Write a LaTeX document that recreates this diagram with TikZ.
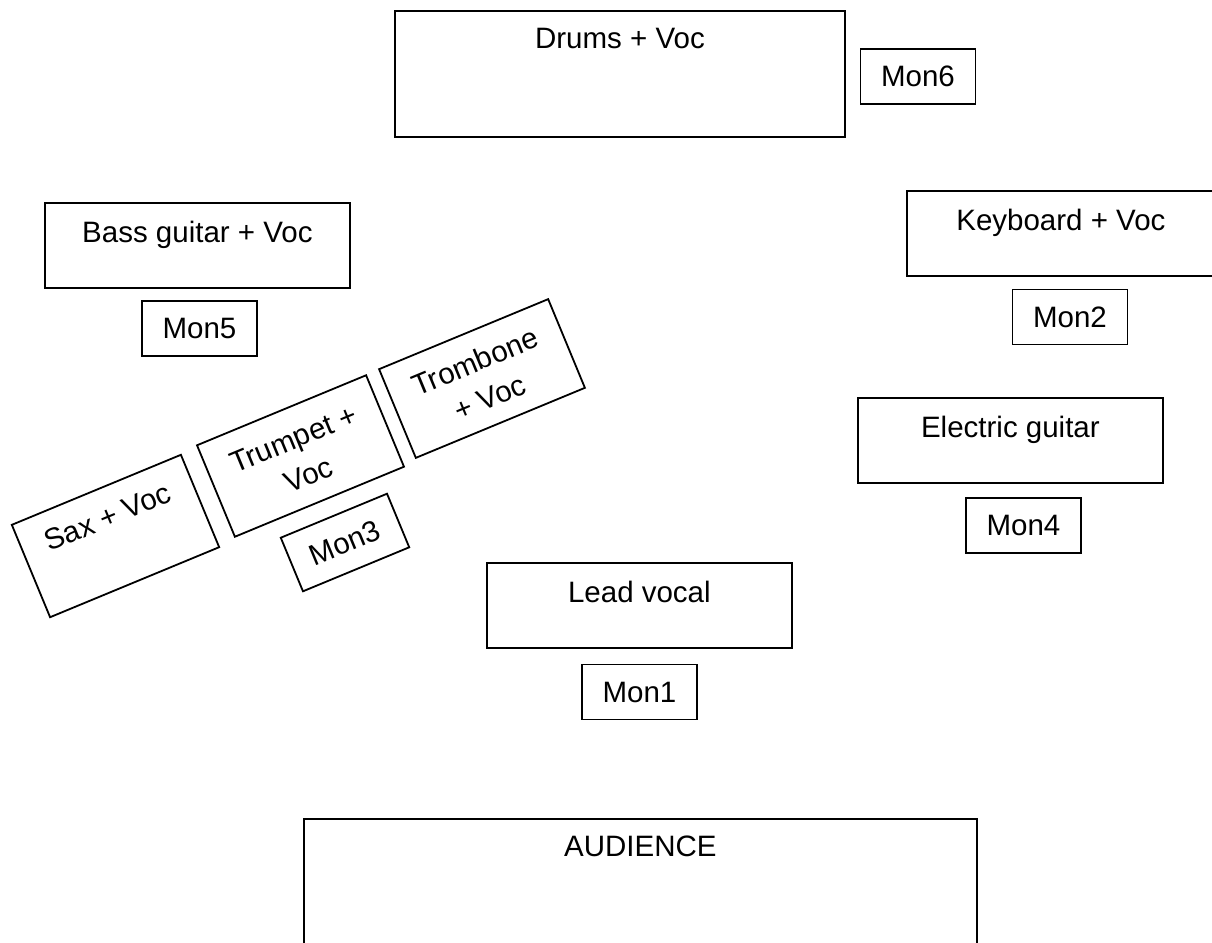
\documentclass[tikz,border=0pt]{standalone}
\usepackage{fontspec}
\setmainfont{Liberation Sans}
\tikzset{%
    stage/.style={%
        draw,
        line width=1.8pt,
        inner sep=0pt,
        anchor=north west,
        minimum width=305pt,
        text height=39.5pt,
        text depth=45.5pt,
        font=\fontsize{29.5}{39}\selectfont
    },
    monitor/.style={%
        draw,
        line width=1.8pt,
        inner sep=0pt,
        minimum width=115pt,
        minimum height=55pt,
        font=\fontsize{29.5}{39}\selectfont
    },
    horn/.style 2 args={%
        stage,
        anchor=center,
        rotate=22.5,
        align=center,
        minimum width=183pt,
        text height=#2pt,
        text depth=#1pt-#2pt
    }
}

\begin{document}
\begin{tikzpicture}[x=1pt, y=-1pt]

    \useasboundingbox (0, 0) rectangle (1212, 942);

    % Back line
    \node[stage, minimum width=450pt, text height=37.5pt, text depth=88.5pt]
        (drums) at (394, 10) {Drums + Voc};
    \node[monitor] (mon6) at (918, 76.5) {Mon6};

    % Left side
    \node[stage] (bass) at (44, 202) {Bass guitar + Voc};
    \node[monitor] (mon5) at (199.5, 328.5) {Mon5};

    % Right side
    \node[stage, minimum width=308pt] (keys) at (906, 190) {Keyboard + Voc};
    \node[monitor] (mon2) at (1070, 317) {Mon2};

    \node[stage] (guitar) at (857, 397) {Electric guitar};
    \node[monitor] (mon4) at (1023.5, 525.5) {Mon4};

    % Horn section
    \node[horn={100}{39.5}] (sax) at (115.5, 536) {Sax + Voc};
    \node[horn={99}{80}] (trumpet) at (300.5, 456) {Trumpet +\\Voc};
    \node[horn={96}{79}] (trombone) at (482, 378.5) {Trombone\\+ Voc};
    \node[monitor, rotate=22.5, minimum height=58pt] (mon3) at (345, 542.5) {Mon3};

    % Front
    \node[stage] (lead) at (486, 562) {Lead vocal};
    \node[monitor] (mon1) at (639.5, 692) {Mon1};

    \node[stage, minimum width=673pt, text height=38pt, text depth=150pt]
        (audience) at (303, 818) {AUDIENCE};

\end{tikzpicture}
\end{document}
